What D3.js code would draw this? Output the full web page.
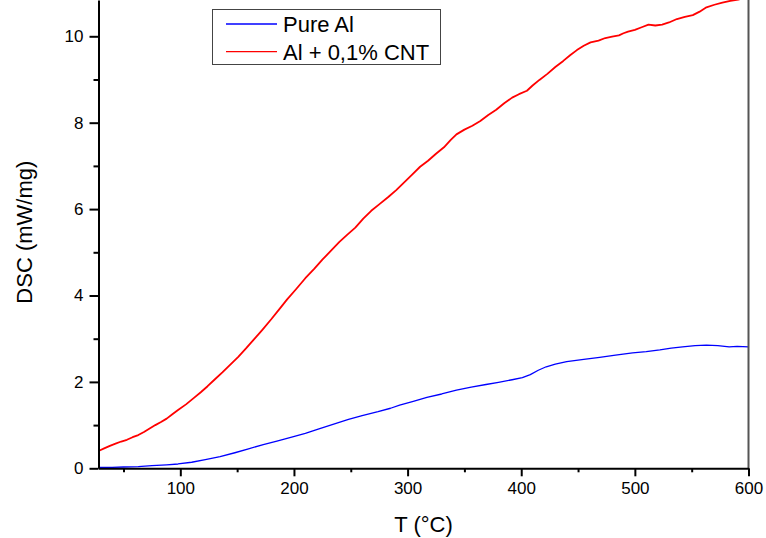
<!DOCTYPE html>
<html><head><meta charset="utf-8">
<script src="https://cdn.jsdelivr.net/npm/d3@7"></script>
<style>
html,body{margin:0;padding:0;background:#fff;}
svg text{font-family:"Liberation Sans",Arial,Helvetica,sans-serif;fill:#000;}
</style></head>
<body>
<svg id="chart" width="766" height="538"></svg>
<script>
// ---- data ----
const seriesNames = ["Pure Al", "Al + 0,1% CNT"];
const pureT =   [28,40,50,63,75,88,98,110,122,135,148,160,173,185,198,210,222,235,248,260,274,285,293,305,317,330,343,356,369,380,392,401,408,415,422,430,440,455,469,483,498,510,522,532,542,553,563,573,583,590,600];
const pureDSC = [0.02,0.02,0.03,0.04,0.06,0.08,0.10,0.14,0.20,0.27,0.36,0.45,0.55,0.63,0.72,0.81,0.91,1.02,1.13,1.22,1.31,1.39,1.46,1.55,1.64,1.72,1.81,1.88,1.94,1.99,2.05,2.10,2.17,2.27,2.35,2.41,2.47,2.52,2.57,2.62,2.67,2.70,2.74,2.78,2.81,2.84,2.85,2.84,2.81,2.82,2.81];
const cntT =   [28,33,38,43,48,53,58,63,68,73,78,83,88,93,98,105,112,118,124,130,137,144,151,158,165,172,180,187,194,202,210,218,225,232,240,247,254,261,268,275,283,290,297,304,311,318,325,332,338,343,350,357,364,371,378,385,392,398,405,410,416,423,430,437,443,449,455,461,468,474,480,486,490,494,500,506,512,518,524,530,537,544,551,557,563,570,577,584,591,598];
const cntDSC = [0.40,0.46,0.52,0.57,0.62,0.66,0.72,0.77,0.84,0.92,1.00,1.07,1.15,1.25,1.35,1.48,1.63,1.76,1.90,2.05,2.22,2.40,2.58,2.78,2.99,3.20,3.45,3.68,3.91,4.15,4.40,4.62,4.83,5.02,5.24,5.41,5.57,5.78,5.96,6.11,6.28,6.44,6.62,6.80,6.98,7.12,7.28,7.43,7.60,7.73,7.84,7.93,8.04,8.18,8.30,8.45,8.58,8.66,8.74,8.86,8.99,9.13,9.29,9.43,9.56,9.68,9.78,9.86,9.90,9.96,9.99,10.02,10.07,10.11,10.15,10.21,10.27,10.25,10.27,10.32,10.40,10.45,10.49,10.57,10.67,10.73,10.78,10.82,10.85,10.90];
const xMajor = [100,200,300,400,500,600];
const xMinor = [50,150,250,350,450,550];
const yMajor = [0,2,4,6,8,10];
const yMinor = [1,3,5,7,9];
const xTitle = "T (°C)";
const yTitle = "DSC (mW/mg)";

// ---- layout ----
const L = 98.5, R = 748.5, T = 0, B = 468.3;
const svg = d3.select("#chart");
const x = d3.scaleLinear().domain([28, 600]).range([L, R]);
const y = d3.scaleLinear().domain([0, 10.84]).range([B, T]);

svg.append("defs").append("clipPath").attr("id","clip")
  .append("rect").attr("x",L).attr("y",T).attr("width",R-L).attr("height",B-T);

// lines
const line = d3.line().x(d=>x(d[0])).y(d=>y(d[1]));
const pureData = pureT.map((t,i)=>[t,pureDSC[i]]);
const cntData = cntT.map((t,i)=>[t,cntDSC[i]]);
const g = svg.append("g").attr("clip-path","url(#clip)");
g.append("path").datum(cntData).attr("d",line).attr("fill","none").attr("stroke","#ff0000").attr("stroke-width",1.8).attr("stroke-linejoin","round");
g.append("path").datum(pureData).attr("d",line).attr("fill","none").attr("stroke","#0000ff").attr("stroke-width",1.3).attr("stroke-linejoin","round");

// right border
svg.append("line").attr("x1",R).attr("x2",R).attr("y1",T).attr("y2",B).attr("stroke","#555").attr("stroke-width",2);

// x axis
const xAx = svg.append("g").attr("transform",`translate(0,${B})`)
  .call(d3.axisBottom(x).tickValues(xMajor).tickSize(8).tickSizeOuter(0).tickPadding(6));
xAx.select(".domain").attr("stroke","#000").attr("stroke-width",2);
xAx.selectAll(".tick line").attr("stroke","#000").attr("stroke-width",2);
xAx.selectAll(".tick text").attr("font-size",17).attr("font-family",'"Liberation Sans",Arial,sans-serif');
const xMin = svg.append("g").attr("transform",`translate(0,${B})`)
  .call(d3.axisBottom(x).tickValues(xMinor).tickSize(4).tickSizeOuter(0).tickFormat(""));
xMin.select(".domain").remove();
xMin.selectAll(".tick line").attr("stroke","#000").attr("stroke-width",2);

// y axis
const yAx = svg.append("g").attr("transform",`translate(${L},0)`)
  .call(d3.axisLeft(y).tickValues(yMajor).tickSize(9).tickSizeOuter(0).tickPadding(6));
yAx.select(".domain").attr("stroke","#000").attr("stroke-width",2);
yAx.selectAll(".tick line").attr("stroke","#000").attr("stroke-width",2);
yAx.selectAll(".tick text").attr("font-size",17).attr("font-family",'"Liberation Sans",Arial,sans-serif');
const yMin = svg.append("g").attr("transform",`translate(${L},0)`)
  .call(d3.axisLeft(y).tickValues(yMinor).tickSize(5).tickSizeOuter(0).tickFormat(""));
yMin.select(".domain").remove();
yMin.selectAll(".tick line").attr("stroke","#000").attr("stroke-width",2);

// titles
svg.append("text").attr("x",(L+R)/2).attr("y",532).attr("text-anchor","middle").attr("font-size",22).text(xTitle);
svg.append("text").attr("transform",`translate(32,${B/2 - 2}) rotate(-90)`).attr("text-anchor","middle").attr("font-size",22).text(yTitle);

// legend
const lg = svg.append("g");
lg.append("rect").attr("x",212.5).attr("y",9.5).attr("width",228).attr("height",55).attr("fill","#fff").attr("stroke","#444").attr("stroke-width",1);
const colors = ["#0000ff","#ff0000"];
seriesNames.forEach((n,i)=>{
  const yy = 24 + i*27.7;
  lg.append("line").attr("x1",226).attr("x2",277).attr("y1",yy).attr("y2",yy).attr("stroke",colors[i]).attr("stroke-width",1.3);
  lg.append("text").attr("x",283).attr("y",yy).attr("dy","0.36em").attr("font-size",22).text(n);
});
</script>
</body></html>
